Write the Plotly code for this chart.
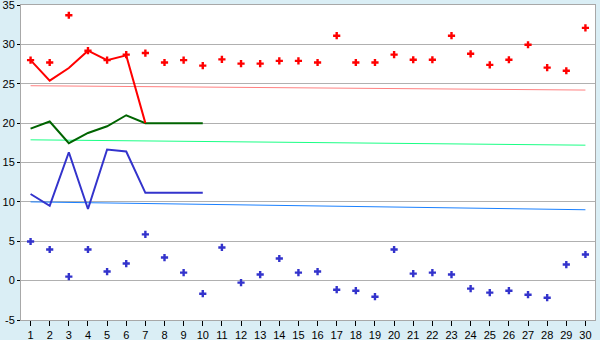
import plotly.graph_objects as go

days = list(range(1, 31))

# scatter points
red_points = [28.0, 27.7, 33.7, 29.2, 28.0, 28.7, 28.9, 27.7, 28.0, 27.3,
              28.1, 27.55, 27.55, 27.9, 27.9, 27.7, 31.1, 27.7, 27.7, 28.7,
              28.05, 28.05, 31.1, 28.8, 27.4, 28.05, 29.95, 27.05, 26.65, 32.1]
blue_points = [4.97, 3.95, 0.51, 3.95, 1.15, 2.17, 5.87, 2.93, 1.02, -1.66,
               4.21, -0.26, 0.77, 2.81, 1.02, 1.15, -1.15, -1.28, -2.04, 3.95,
               0.89, 1.02, 0.77, -1.02, -1.53, -1.28, -1.79, -2.17, 2.04, 3.32]

# line series
red_line_x = [1, 2, 3, 4, 5, 6, 7]
red_line = [28.0, 25.4, 27.0, 29.2, 28.0, 28.6, 20.0]
green_line_x = [1, 2, 3, 4, 5, 6, 7, 8, 9, 10]
green_line = [19.3, 20.2, 17.45, 18.75, 19.6, 21.0, 20.0, 20.0, 20.0, 20.0]
blue_line_x = [1, 2, 3, 4, 5, 6, 7, 8, 9, 10]
blue_line = [11.0, 9.5, 16.3, 9.1, 16.65, 16.4, 11.15, 11.15, 11.15, 11.15]

# trend lines (start at day 1, end at day 30)
trend_x = [1, 30]
red_trend = [24.75, 24.2]
green_trend = [17.88, 17.2]
blue_trend = [10.0, 9.0]

y_ticks = [-5, 0, 5, 10, 15, 20, 25, 30, 35]

fig = go.Figure()
for ys, col in [(red_trend, "#FF8080"), (green_trend, "#1AFF85"), (blue_trend, "#1A80FF")]:
    fig.add_trace(go.Scatter(x=trend_x, y=ys, mode="lines",
                             line=dict(color=col, width=1), hoverinfo="skip"))
fig.add_trace(go.Scatter(x=blue_line_x, y=blue_line, mode="lines",
                         line=dict(color="#3333CC", width=2)))
fig.add_trace(go.Scatter(x=green_line_x, y=green_line, mode="lines",
                         line=dict(color="#006400", width=2)))
fig.add_trace(go.Scatter(x=red_line_x, y=red_line, mode="lines",
                         line=dict(color="#FF0000", width=2)))
fig.add_trace(go.Scatter(x=days, y=red_points, mode="markers",
                         marker=dict(symbol="cross", size=6, color="#FF0000")))
fig.add_trace(go.Scatter(x=days, y=blue_points, mode="markers",
                         marker=dict(symbol="cross", size=6, color="#3333CC")))

fig.update_layout(
    width=600, height=340,
    margin=dict(l=21, r=5, t=5, b=20),
    paper_bgcolor="#DAEEF5",
    plot_bgcolor="#FFFFFF",
    showlegend=False,
    font=dict(family="Liberation Sans, Arial, sans-serif", size=11, color="#000000"),
)
fig.update_xaxes(
    range=[0.5, 30.5], tickmode="array", tickvals=days, ticktext=[str(d) for d in days],
    showgrid=False, zeroline=False, automargin=False,
    showline=True, linecolor="#A8A8A8", linewidth=1, mirror=True,
    ticks="outside", ticklen=5, tickcolor="#000000", tickwidth=1,
    ticklabeloverflow="allow",
)
fig.update_yaxes(
    range=[-5, 35], tickmode="array", tickvals=y_ticks, ticktext=[str(v) for v in y_ticks],
    showgrid=True, gridcolor="#B0B0B0", gridwidth=1, zeroline=False, automargin=False,
    showline=True, linecolor="#A8A8A8", linewidth=1, mirror=True,
    ticks="outside", ticklen=3, tickcolor="#000000", tickwidth=1,
    ticklabeloverflow="allow",
)

fig.write_html("out.html")
